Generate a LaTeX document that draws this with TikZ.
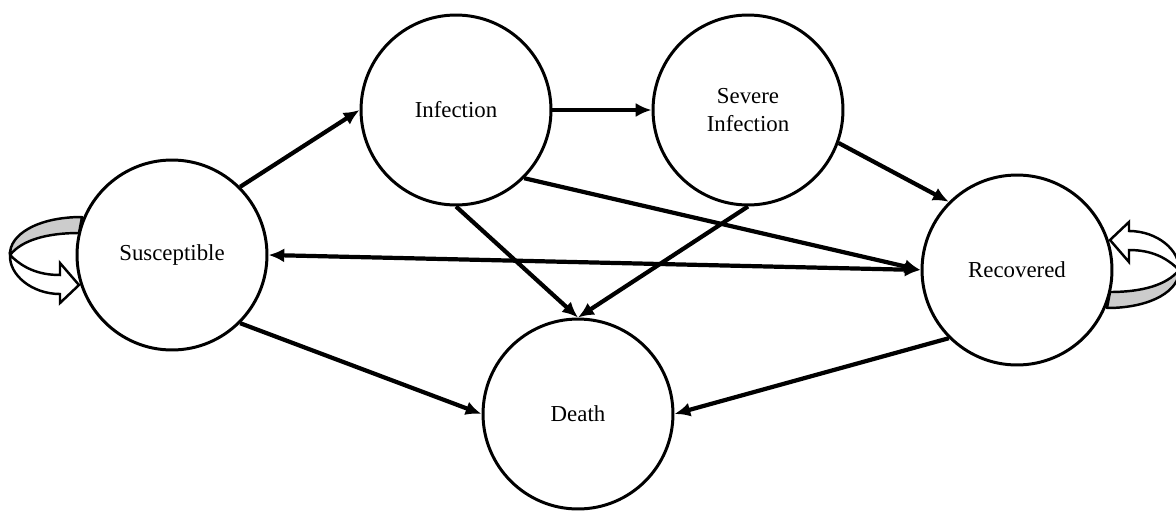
\documentclass[tikz,border=0pt]{standalone}
\usepackage{fontspec}
\setmainfont{Liberation Serif}
\usepackage{tikz}
\usetikzlibrary{arrows.meta}
\usetikzlibrary{backgrounds}
\tikzset{>={Latex[length=9pt,width=8pt]}}
\usepackage{xcolor}
\colorlet{bandcol}{gray!40}
\tikzstyle{state}=[circle,draw,line width=1.7pt,fill=white,minimum size=3.8cm,inner sep=0pt,align=center,font=\fontsize{13}{16}\selectfont]
\tikzstyle{flow}=[line width=2.4pt]
\tikzset{selfloop/.pic={
    \filldraw[line width=1.4pt,line join=round,fill=bandcol] (-90,-38) .. controls (-135,-38) and (-163,-20) .. (-162,0)
        .. controls (-150,-15) and (-125,-22) .. (-93,-22) -- cycle;
    \filldraw[line width=1.4pt,line join=miter,fill=white] (-162,0) .. controls (-150,12) and (-135,20) .. (-112,20)
        -- (-112,8) -- (-93,30) -- (-112,48) -- (-112,39)
        .. controls (-140,39) and (-163,20) .. (-162,0) -- cycle;
}}

\begin{document}
\begin{tikzpicture}[x=0.02cm,y=-0.02cm]
    \useasboundingbox (0,0) rectangle (1176,511);

    \node[state] (S) at (172,255) {Susceptible};
    \node[state] (I) at (456,110) {Infection};
    \node[state] (SI) at (748,110) {Severe\\Infection};
    \node[state] (R) at (1017,270) {Recovered};
    \node[state] (D) at (578,414) {Death};

    \begin{scope}[on background layer]
        \pic at (S) {selfloop};
        \pic[rotate=180] at (R) {selfloop};
    \end{scope}

    \draw[flow,->] (S.45) -- (I.west);
    \draw[flow,->] (I.east) -- (SI.west);
    \draw[flow,->] (SI.-20) -- (R.135);
    \draw[flow,->] (I.-45) -- (R.west);
    \draw[flow,<->] (S.east) -- (R.west);
    \draw[flow,->] (I.south) -- (D.north);
    \draw[flow,->] (SI.south) -- (D.north);
    \draw[flow,->] (S.-45) -- (D.west);
    \draw[flow,->] (R.-135) -- (D.east);
\end{tikzpicture}
\end{document}
